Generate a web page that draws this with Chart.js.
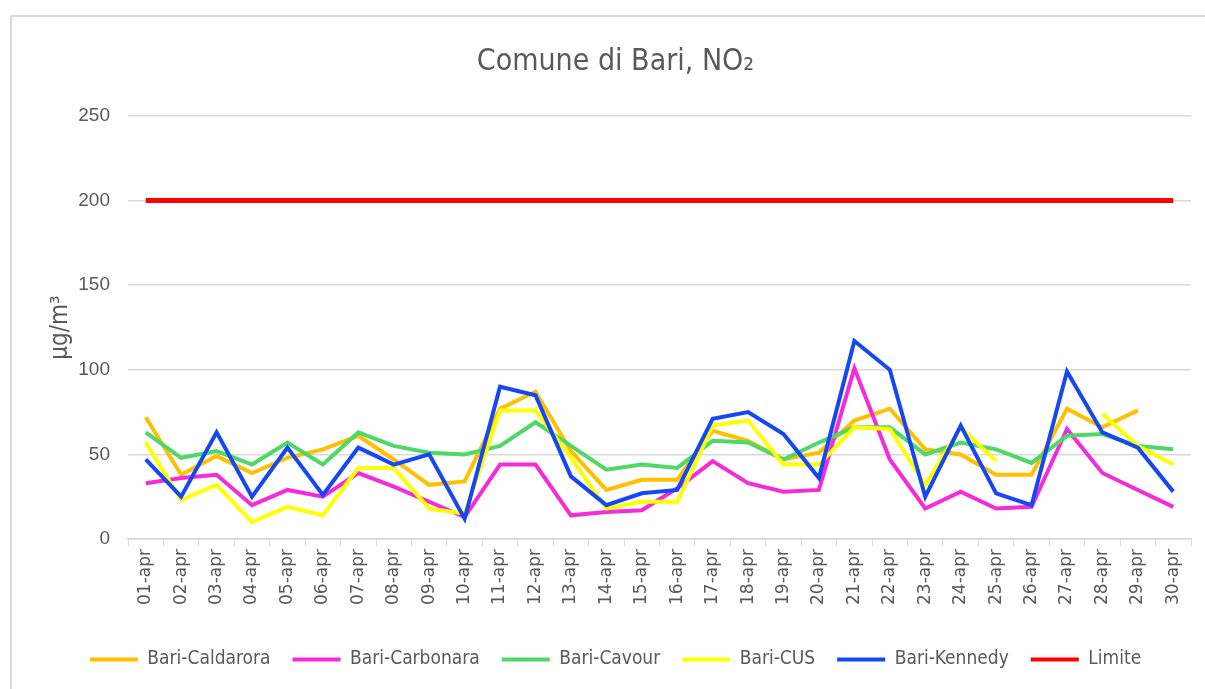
<!DOCTYPE html>
<html lang="it">
<head>
    <meta charset="UTF-8">
    <title>Comune di Bari, NO2</title>
    <style>
        body { margin: 0; padding: 0; background-color: #fff; }
        .chart-box { position: relative; width: 1205px; height: 689px; }
    </style>
    <script src="https://cdn.jsdelivr.net/npm/chart.js"></script>
</head>
<body>

<div class="chart-box">
    <canvas id="myChart" width="1205" height="689"></canvas>
</div>

<script>
    const days = ['01-apr', '02-apr', '03-apr', '04-apr', '05-apr', '06-apr', '07-apr', '08-apr', '09-apr', '10-apr',
                  '11-apr', '12-apr', '13-apr', '14-apr', '15-apr', '16-apr', '17-apr', '18-apr', '19-apr', '20-apr',
                  '21-apr', '22-apr', '23-apr', '24-apr', '25-apr', '26-apr', '27-apr', '28-apr', '29-apr', '30-apr'];

    const caldarora = [72, 38, 49, 39, 48, 53, 61, 47, 32, 34, 77, 87, 52, 29, 35, 35, 64, 58, 47, 51,
                       70, 77, 53, 50, 38, 38, 77, 66, 76, null];
    const carbonara = [33, 36, 38, 20, 29, 25, 39, 31, 22, 13, 44, 44, 14, 16, 17, 30, 46, 33, 28, 29,
                       101, 47, 18, 28, 18, 19, 65, 39, 29, 19];
    const cavour    = [63, 48, 52, 44, 57, 44, 63, 55, 51, 50, 55, 69, 55, 41, 44, 42, 58, 57, 47, 57,
                       66, 66, 50, 57, 53, 45, 61, 62, 55, 53];
    const cus       = [57, 23, 32, 10, 19, 14, 42, 42, 18, 15, 76, 76, 48, 18, 22, 22, 67, 70, 44, 44,
                       66, 65, 32, 66, 46, null, null, 74, 55, 44];
    const kennedy   = [47, 25, 63, 25, 54, 26, 54, 44, 50, 12, 90, 85, 37, 20, 27, 29, 71, 75, 62, 36,
                       117, 100, 25, 67, 27, 20, 99, 63, 54, 28];
    const limite    = days.map(() => 200);

    const yTicks = [0, 50, 100, 150, 200, 250];

    const grey = '#595959';
    const gridColor = '#d9d9d9';
    const narrow = "'Liberation Sans Narrow', 'DejaVu Sans Condensed', 'Liberation Sans', sans-serif";

    // light frame round the chart (left and top edges only are visible)
    const framePlugin = {
        id: 'frame',
        beforeDraw(chart) {
            const c = chart.ctx;
            c.save();
            c.strokeStyle = gridColor;
            c.lineWidth = 2;
            c.beginPath();
            c.moveTo(11, 689);
            c.lineTo(11, 16);
            c.lineTo(1205, 16);
            c.stroke();
            c.restore();
        }
    };

    function series(label, data, color, order, width) {
        return {
            label: label,
            data: data,
            borderColor: color,
            backgroundColor: color,
            borderWidth: width || 4,
            pointRadius: 0,
            tension: 0,
            spanGaps: false,
            order: order
        };
    }

    const ctx = document.getElementById('myChart').getContext('2d');
    const myChart = new Chart(ctx, {
        type: 'line',
        data: {
            labels: days,
            datasets: [
                series('Bari-Caldarora', caldarora, '#ffc000', 5),
                series('Bari-Carbonara', carbonara, '#f52ad8', 4),
                series('Bari-Cavour', cavour, '#4ed866', 3),
                series('Bari-CUS', cus, '#ffff00', 2),
                series('Bari-Kennedy', kennedy, '#1547f5', 1),
                series('Limite', limite, '#ff0000', 0, 5)
            ]
        },
        options: {
            responsive: false,
            animation: false,
            layout: { padding: { left: 40, right: 14, top: 0, bottom: 10 } },
            plugins: {
                tooltip: { enabled: false },
                title: {
                    display: true,
                    text: 'Comune di Bari, NO\u2082',
                    color: grey,
                    font: { family: narrow, size: 30, weight: 'normal' },
                    padding: { top: 44, bottom: 36 }
                },
                legend: {
                    position: 'bottom',
                    labels: {
                        color: grey,
                        font: { family: narrow, size: 19 },
                        boxWidth: 48,
                        boxHeight: 4,
                        padding: 22,
                        sort: (a, b) => a.datasetIndex - b.datasetIndex,
                        generateLabels(chart) {
                            const items = Chart.defaults.plugins.legend.labels.generateLabels(chart);
                            items.forEach(it => { it.lineWidth = 0; });
                            return items;
                        }
                    }
                }
            },
            scales: {
                x: {
                    offset: true,
                    afterFit(scale) { scale.height = 89; },
                    grid: {
                        drawOnChartArea: false,
                        color: gridColor,
                        tickLength: 7,
                        offset: true
                    },
                    border: { color: gridColor, width: 1.5 },
                    ticks: {
                        autoSkip: false,
                        minRotation: 90,
                        maxRotation: 90,
                        color: grey,
                        padding: 3,
                        font: { family: "'DejaVu Sans', sans-serif", size: 17 }
                    }
                },
                y: {
                    min: 0,
                    max: 250,
                    afterFit(scale) { scale.width = 88; },
                    afterBuildTicks(scale) { scale.ticks = yTicks.map(v => ({ value: v })); },
                    grid: { color: gridColor, lineWidth: 1.5, drawTicks: false },
                    border: { display: false },
                    ticks: {
                        color: grey,
                        padding: 18,
                        font: { family: "'Liberation Sans', sans-serif", size: 19 }
                    },
                    title: {
                        display: true,
                        text: 'µg/m³',
                        color: grey,
                        font: { family: narrow, size: 24 },
                        padding: { top: 6, bottom: 0 }
                    }
                }
            }
        },
        plugins: [framePlugin]
    });
</script>

</body>
</html>
